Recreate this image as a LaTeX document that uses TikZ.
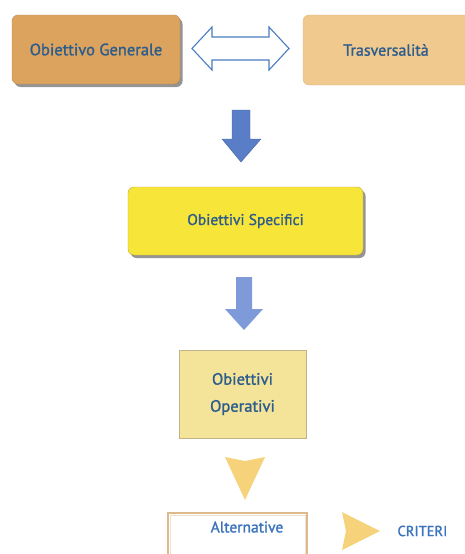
\documentclass[tikz,border=0pt]{standalone}
\usepackage{fontspec}
\setmainfont{PT Sans}[AutoFakeBold=1.4]
\usetikzlibrary{shadows}
\definecolor{txtblue}{HTML}{2E5D8C}
\definecolor{lblue}{HTML}{3B74BC}
\definecolor{ogfill}{HTML}{DBA35E}
\definecolor{trfill}{HTML}{F0C98E}
\definecolor{osfill}{HTML}{F8E53A}
\definecolor{oofill}{HTML}{F4E49A}
\definecolor{ooedge}{HTML}{C2B48A}
\definecolor{altedge}{HTML}{DDBA8C}
\definecolor{arrowA}{HTML}{5A7DC8}
\definecolor{arrowB}{HTML}{7E9AD8}
\definecolor{dblline}{HTML}{4A7CC0}
\definecolor{yarrow}{HTML}{F6D27A}
\tikzset{
  box/.style={minimum width=#1, inner sep=0pt, align=center, text=txtblue},
  lbl/.style={font=\fontsize{#1}{#1}\selectfont\bfseries},
  shadowed/.style={drop shadow={shadow xshift=2.5pt, shadow yshift=-3pt, opacity=0.6, fill=black!70}},
}
\begin{document}
\begin{tikzpicture}[x=1pt, y=-1pt]
\useasboundingbox (0,0) rectangle (464,554);

% top row
\node[box=168pt, minimum height=69pt, fill=ogfill, draw=ogfill!85!black, line width=0.4pt,
      rounded corners=6pt, shadowed, lbl=16.5] (og) at (96,49.5) {Obiettivo Generale};
\node[box=177pt, minimum height=70pt, fill=trfill, draw=trfill!90!black, line width=0.3pt,
      rounded corners=6pt] (tr) at (391.5,50) {};
\node[text=txtblue, lbl=16] (trl) at (386,50) {Trasversalità};

% hollow double arrow between the two top boxes
\coordinate (dl) at (192,48.5);
\coordinate (dr) at (289,48.5);
\draw[dblline, line width=1.1pt, fill=white, line join=miter]
  (dl) -- ++(20,-21.5) -- ++(0,10) -- ++(57,0) -- ++(0,-10) -- (dr)
       -- ++(-20,21.5) -- ++(0,-10) -- ++(-57,0) -- ++(0,10) -- cycle;

% specific objectives
\node[box=235pt, minimum height=68pt, fill=osfill, draw=osfill!75!black, line width=0.4pt,
      rounded corners=6pt, shadowed, lbl=15.5] (os) at (245.5,221) {Obiettivi Specifici};

% operative objectives
\node[box=127pt, minimum height=88pt, fill=oofill, draw=ooedge, line width=0.8pt,
      font=\fontsize{16.5}{27}\selectfont\bfseries] (oo) at (242.5,394) {Obiettivi\\Operativi};

% alternatives
\node[box=139pt, minimum height=46pt, fill=white, draw=altedge, line width=2.4pt,
      anchor=north] (alt) at (237.5,512) {};
\draw[altedge!45, line width=0.6pt] ([shift={(3,3)}]alt.north west) rectangle ([shift={(-3,-3)}]alt.south east);
\node[text=lblue, lbl=15.5] (altl) at (247,527) {Alternative};

\node[text=lblue, lbl=14.5, anchor=west] (cr) at (394,531) {CRITERI};

% down arrow 1
\coordinate (a1) at (241,110);
\fill[arrowA] (a1) ++(-9,0) -- ++(18,0) -- ++(0,29) -- ++(11,0) -- (241,162) -- (222,139) -- ++(10,0) -- cycle;
\draw[arrowA!80!black, line width=0.4pt, line join=miter] (a1) ++(-9,0) -- ++(18,0) -- ++(0,29) -- ++(11,0) -- (241,162) -- (222,139) -- ++(10,0) -- cycle;

% down arrow 2
\coordinate (a2) at (244,277);
\fill[arrowB] (a2) ++(-8,0) -- ++(16,0) -- ++(0,32) -- ++(11,0) -- (244,330) -- (225,309) -- ++(11,0) -- cycle;

% yellow arrowheads
\fill[yarrow] (225,457) -- (245,461) -- (265,457) -- (245,500) -- cycle;
\fill[yarrow] (342,512) -- (346,531) -- (342,550) -- (380,531) -- cycle;
\end{tikzpicture}
\end{document}
